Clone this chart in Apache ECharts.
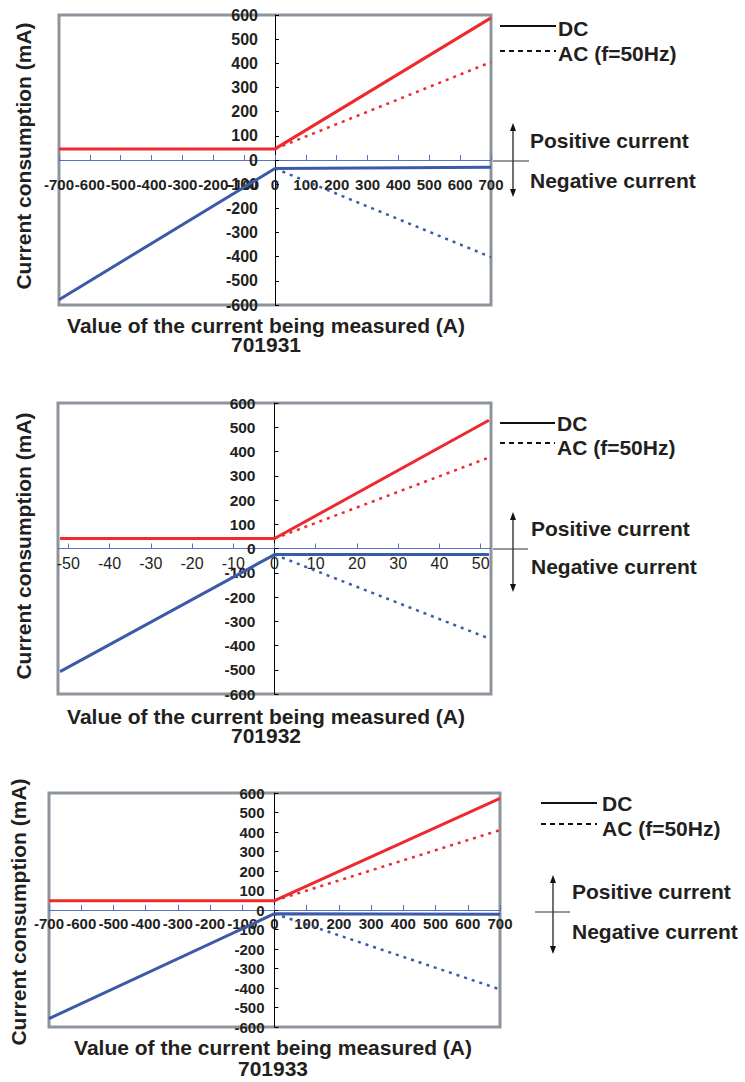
<!DOCTYPE html>
<html>
<head>
<meta charset="utf-8">
<script src="https://cdn.jsdelivr.net/npm/echarts@6/dist/echarts.min.js"></script>
<style>
html,body{margin:0;padding:0;background:#fff;}
#c{width:745px;height:1082px;}
</style>
</head>
<body>
<div id="c"></div>
<script>
// ---------- data ----------
// 701931
const x701931 = [-700, 0, 700];
const dcPos701931 = [46, 46, 588];
const dcNeg701931 = [-578, -35, -30];
const acX701931 = [0, 700];
const acPos701931 = [46, 405];
const acNeg701931 = [-35, -402];
// 701932
const x701932 = [-52, 0, 52];
const dcPos701932 = [41, 41, 529];
const dcNeg701932 = [-508, -25, -25];
const acX701932 = [0, 52];
const acPos701932 = [41, 375];
const acNeg701932 = [-25, -371];
// 701933
const x701933 = [-700, 0, 700];
const dcPos701933 = [48, 48, 573];
const dcNeg701933 = [-557, -19, -22];
const acX701933 = [0, 700];
const acPos701933 = [48, 410];
const acNeg701933 = [-19, -407];
// tick labels
const xTicks701932 = [-50, -40, -30, -20, -10, 0, 10, 20, 30, 40, 50];
const models = ['701931', '701932', '701933'];
const xTitle = 'Value of the current being measured (A)';
const yTitle = 'Current consumption (mA)';
const legendTexts = ['DC', 'AC (f=50Hz)'];
const directionTexts = ['Positive current', 'Negative current'];

// ---------- styles ----------
const RED = '#ee2a2e', BLUE = '#3b5ba9', AXBLUE = '#5572c4', TXT = '#231f20', BORDER = '#8d949b';
const FONT = '"Liberation Sans", Arial, Helvetica, sans-serif';
const Y_MIN = -600, Y_MAX = 600;

const pair = (xs, ys) => xs.map((x, i) => [x, ys[i]]);

const gridBoxes = [
  {left: 59, top: 15, width: 432, height: 290},
  {left: 58, top: 403, width: 433, height: 291},
  {left: 49, top: 793, width: 451, height: 234}
];
const grids = gridBoxes.map(g => Object.assign({}, g, {show: true, borderColor: BORDER, borderWidth: 3, backgroundColor: 'transparent', containLabel: false}));

const xCfg = [
  {min: -700, max: 700, interval: 100, size: 15, bold: 'bold', margin: 17},
  {min: -52.5, max: 52.5, custom: xTicks701932, size: 16, bold: 'normal', margin: 7},
  {min: -700, max: 700, interval: 100, size: 15, bold: 'bold', margin: 6}
];
const xAxes = xCfg.map((c, i) => {
  const g = gridBoxes[i];
  // place the x axis at y = 0 (inside the grid)
  const zeroFromBottom = g.height * (0 - Y_MIN) / (Y_MAX - Y_MIN);
  const a = {
    type: 'value', gridIndex: i, min: c.min, max: c.max, position: 'bottom', offset: -zeroFromBottom,
    axisLine: {onZero: false, lineStyle: {color: AXBLUE, width: 1}},
    axisTick: {show: true, inside: true, length: 5, lineStyle: {color: AXBLUE, width: 1}},
    axisLabel: {interval: 0, color: TXT, fontFamily: FONT, fontSize: c.size, fontWeight: c.bold, margin: c.margin, showMinLabel: true, showMaxLabel: true, hideOverlap: false},
    splitLine: {show: false}
  };
  if (c.interval) a.interval = c.interval;
  if (c.custom) { a.axisLabel.customValues = c.custom; a.axisTick.customValues = c.custom; }
  return a;
});
const yMargins = [17, 19, 10];
const ySizes = [16, 15.5, 15];
const yAxes = [0, 1, 2].map(i => {
  const g = gridBoxes[i], c = xCfg[i];
  const zeroFromLeft = g.width * (0 - c.min) / (c.max - c.min);
  return {
    type: 'value', gridIndex: i, min: Y_MIN, max: Y_MAX, interval: 100, position: 'left', offset: -zeroFromLeft,
    axisLine: {onZero: false, lineStyle: {color: '#000', width: 1}},
    axisTick: {show: true, inside: true, length: 4, lineStyle: {color: '#000', width: 1}},
    axisLabel: {interval: 0, color: TXT, fontFamily: FONT, fontSize: ySizes[i], fontWeight: 'bold', margin: yMargins[i], showMinLabel: true, showMaxLabel: true, hideOverlap: false},
    splitLine: {show: false}
  };
});

const sets = [
  [x701931, dcPos701931, dcNeg701931, acX701931, acPos701931, acNeg701931],
  [x701932, dcPos701932, dcNeg701932, acX701932, acPos701932, acNeg701932],
  [x701933, dcPos701933, dcNeg701933, acX701933, acPos701933, acNeg701933]
];
const series = [];
sets.forEach((s, i) => {
  const base = {type: 'line', xAxisIndex: i, yAxisIndex: i, showSymbol: false, symbol: 'none', animation: false, silent: true, z: 3};
  series.push(Object.assign({}, base, {name: 'DC+ ' + models[i], data: pair(s[0], s[1]), lineStyle: {color: RED, width: 3}}));
  series.push(Object.assign({}, base, {name: 'DC- ' + models[i], data: pair(s[0], s[2]), lineStyle: {color: BLUE, width: 3}}));
  series.push(Object.assign({}, base, {name: 'AC+ ' + models[i], data: pair(s[3], s[4]), lineStyle: {color: RED, width: 2.5, type: [3, 5]}}));
  series.push(Object.assign({}, base, {name: 'AC- ' + models[i], data: pair(s[3], s[5]), lineStyle: {color: BLUE, width: 2.5, type: [3, 5]}}));
});

// ---------- annotations ----------
const graphic = [];
const txt = (x, y, t, o) => graphic.push(Object.assign({type: 'text', x: x, y: y, style: Object.assign({text: t, fill: TXT, font: 'bold 21px ' + FONT, textAlign: 'left', textVerticalAlign: 'middle'}, o || {})}));
const line = (x1, y1, x2, y2, st) => graphic.push({type: 'line', shape: {x1: x1, y1: y1, x2: x2, y2: y2}, style: Object.assign({stroke: '#111', lineWidth: 1}, st || {})});
const tri = (pts) => graphic.push({type: 'polygon', shape: {points: pts}, style: {fill: '#111'}});

const titlePos = [
  {vx: 23, vy: 156, tx: 266, ty: 325, sy: 344},
  {vx: 23, vy: 546, tx: 266, ty: 716, sy: 735},
  {vx: 18, vy: 912, tx: 273, ty: 1047, sy: 1068}
];
titlePos.forEach((p, i) => {
  graphic.push({type: 'text', x: p.vx, y: p.vy, rotation: Math.PI / 2, style: {text: yTitle, fill: TXT, font: 'bold 21px ' + FONT, textAlign: 'center', textVerticalAlign: 'middle'}});
  txt(p.tx, p.ty, xTitle, {textAlign: 'center'});
  txt(p.tx, p.sy, models[i], {textAlign: 'center'});
});

const legendPos = [
  {lx1: 500, lx2: 556, dcY: 26, dcTY: 28, acY: 51, acTY: 53, tx: 558, ax: 513, aTop: 123, aBot: 197, hx1: 493, hx2: 529, hy: 161, px: 530, py: 140, ny: 180},
  {lx1: 500, lx2: 555, dcY: 423, dcTY: 423, acY: 443, acTY: 447, tx: 557, ax: 513, aTop: 512, aBot: 592, hx1: 493, hx2: 528, hy: 549, px: 531, py: 528, ny: 566},
  {lx1: 541, lx2: 597, dcY: 803, dcTY: 803, acY: 824, acTY: 828, tx: 602, ax: 553, aTop: 875, aBot: 954, hx1: 535, hx2: 570, hy: 912, px: 572, py: 891, ny: 931}
];
legendPos.forEach(p => {
  line(p.lx1, p.dcY, p.lx2, p.dcY, {lineWidth: 2, stroke: '#111'});
  txt(p.tx, p.dcTY, legendTexts[0]);
  line(p.lx1, p.acY, p.lx2, p.acY, {lineWidth: 2, stroke: '#111', lineDash: [5, 4]});
  txt(p.tx, p.acTY, legendTexts[1]);
  line(p.ax, p.aTop + 6, p.ax, p.aBot - 6, {lineWidth: 1.2});
  tri([[p.ax - 3, p.aTop + 8], [p.ax + 3, p.aTop + 8], [p.ax, p.aTop]]);
  tri([[p.ax - 3, p.aBot - 8], [p.ax + 3, p.aBot - 8], [p.ax, p.aBot]]);
  line(p.hx1, p.hy, p.hx2, p.hy, {lineWidth: 1.2, stroke: '#333'});
  txt(p.px, p.py, directionTexts[0]);
  txt(p.px, p.ny, directionTexts[1]);
});

const chart = echarts.init(document.getElementById('c'), null, {renderer: 'svg'});
chart.setOption({
  animation: false,
  backgroundColor: '#fff',
  grid: grids,
  xAxis: xAxes,
  yAxis: yAxes,
  series: series,
  graphic: graphic
});
</script>
</body>
</html>
